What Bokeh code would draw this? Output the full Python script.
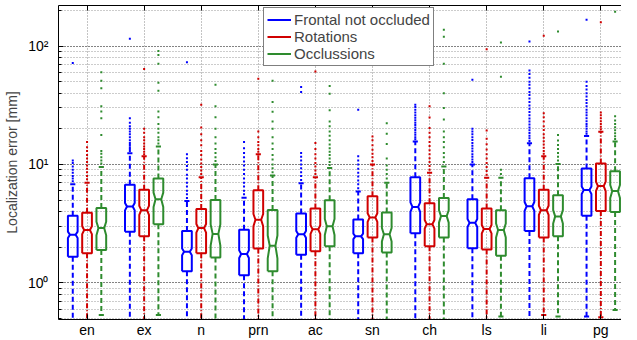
import math
from bokeh.plotting import figure
from bokeh.models import (FixedTicker, LinearAxis, Legend, LegendItem, Range1d)
from bokeh.embed import file_html
from bokeh.resources import INLINE

# ---------------- data ----------------
categories = ["en", "ex", "n", "prn", "ac", "sn", "ch", "ls", "li", "pg"]
series_names = ["Frontal not occluded", "Rotations", "Occlussions"]

# Frontal not occluded (blue)
blue_q1 = [1.66, 2.70, 1.25, 1.16, 1.73, 1.78, 2.62, 1.96, 2.74, 3.68]
blue_med = [2.55, 4.41, 1.83, 1.75, 2.57, 2.47, 4.38, 3.21, 4.43, 6.07]
blue_q3 = [3.68, 6.74, 2.74, 2.81, 3.85, 3.43, 7.80, 5.08, 7.65, 9.22]
blue_whi = [6.8, 12.4, 4.9, 5.24, 6.95, 5.92, 15.6, 10.0, 15.1, 17.4]
blue_wlo = [0.3, 0.3, 0.3, 0.3, 0.3, 0.3, 0.3, 0.3, 0.3, 0.52]
blue_out = [
    [7.2, 7.6, 8.0, 8.5, 9.0, 9.6, 10.3, 10.8, 72],
    [13, 13.5, 14, 14.6, 15.2, 16, 17, 18, 19, 20, 21, 22.5, 24.5, 115],
    [5.2, 5.6, 6, 6.5, 7, 7.6, 8.2, 9, 9.7, 10.5, 11.3, 12.2, 73],
    [5.6, 6, 6.5, 7, 7.6, 8.3, 9, 9.8, 10.6, 11.5, 12.5, 13.7, 15.5],
    [7.4, 8, 8.6, 9.3, 10, 10.8, 11.6, 12.5, 41, 45],
    [6.3, 6.8, 7.3, 7.9, 8.5, 9.2, 10, 10.8, 11.7, 29],
    [16.3, 17, 17.8, 18.6, 19.5, 20.5, 21.5, 22.5, 23.6, 24.8, 26, 27.5, 29, 30.5, 32],
    [10.5, 11, 11.6, 12.2, 12.9, 13.6, 14.4, 15.2, 16.1, 17, 18, 19, 20, 52],
    [15.8, 16.6, 17.5, 18.4, 19.4, 20.5, 21.7, 23, 24.4, 26, 27.7, 29.5, 31.5, 33.7,
     36, 38.5, 41, 44, 47, 50, 54, 58, 62, 109],
    [18.2, 19, 20, 21, 22, 23.2, 24.5, 26, 27.5, 29, 31, 33, 35, 37.5, 40, 43, 46, 50, 167],
]

# Rotations (red)
red_q1 = [1.78, 2.47, 1.78, 1.95, 1.85, 2.41, 2.04, 1.91, 2.41, 4.05]
red_med = [2.79, 4.11, 2.90, 3.41, 2.83, 3.57, 3.13, 2.85, 4.11, 6.56]
red_q3 = [3.90, 6.12, 4.21, 6.04, 4.24, 5.38, 4.70, 4.24, 6.12, 10.2]
red_whi = [7.0, 11.7, 7.8, 12.2, 7.8, 10.0, 8.5, 7.7, 11.7, 18.9]
red_wlo = [0.3, 0.3, 0.3, 0.3, 0.3, 0.3, 0.3, 0.3, 0.536, 0.512]
red_out = [
    [7.5, 8, 8.6, 9.2, 9.8, 10.5, 11.2, 12, 13, 14, 15.5],
    [12.2, 12.8, 13.5, 14.2, 15, 16, 17, 18.5, 20, 64],
    [8.3, 8.9, 9.5, 10.2, 11, 12, 13, 14.5, 16, 18, 20.5, 32],
    [12.8, 13.5, 14.5, 15.5, 17, 19, 53],
    [8.3, 8.9, 9.6, 10.3, 11.2, 12.2, 13.5, 15.2, 61],
    [10.7, 11.5, 12.3, 13.3, 14.5, 16, 17.2],
    [9, 9.7, 10.5, 11.3, 12.2, 13.2, 14.3, 15.5, 17, 18.5, 20.3, 24.9, 31],
    [8.2, 8.8, 9.5, 10.3, 11.2, 12.2, 13.4, 14.8, 16.5, 19.3, 94],
    [12.3, 13, 13.8, 14.7, 15.7, 16.8, 18, 19.5, 21, 23, 25, 27, 122],
    [19.8, 20.8, 22, 23.2, 24.5, 26, 27.5, 159],
]

# Occlussions (green)
green_q1 = [1.89, 3.13, 1.64, 1.25, 2.04, 1.80, 2.41, 1.69, 2.47, 3.97]
green_med = [2.90, 5.08, 2.59, 2.06, 3.00, 2.57, 3.66, 2.79, 3.64, 5.96]
green_q3 = [4.29, 7.60, 5.00, 4.13, 4.98, 3.93, 5.20, 4.10, 5.48, 8.75]
green_whi = [9.5, 14.2, 10.0, 8.06, 9.35, 7.0, 9.6, 7.7, 10.1, 15.6]
green_wlo = [0.536, 0.536, 0.3, 0.3, 0.3, 0.3, 0.3, 0.52, 0.52, 0.59]
green_out = [
    [10.2, 10.8, 11.5, 12.3, 13, 17.7, 24.6, 28, 31, 44, 51, 60],
    [15, 16, 17, 18.5, 20, 22, 25, 28, 42, 49, 71, 84, 91],
    [10.7, 11.5, 12.5, 13.5, 15, 17, 20, 25, 31, 47],
    [8.6, 9.3, 10, 11, 12, 13.5, 15, 17, 20, 23, 27.8, 33.7, 51],
    [9.9, 10.5, 11.2, 12, 12.8, 13.7, 14.7, 16, 17.5, 19, 21, 23, 28.7, 39.6, 46],
    [7.6, 8.3, 9, 9.8, 11.2, 14.9, 18.2, 22.3],
    [10.5, 11.5, 12.5, 14, 15.5, 17, 19, 24, 30, 40, 71, 120, 137],
    [8.3, 9, 55, 107],
    [10.8, 11.6, 12.5, 13.5, 14.6, 15.9, 17.7, 133],
    [16.4, 17.3, 18.3, 19.4, 20.6, 22, 23.5, 25.5, 195],
]

# sample counts used for the notch (median +- 1.57*IQR/sqrt(n))
n_samples = [400, 250, 100]

# ---------------- style ----------------
colors = ["#0000ff", "#d00000", "#2e8b2e"]
whisker_dash = ["5 3", "5 2 1 2", "5 3"]
offsets = [-0.25, 0.0, 0.25]
HW = 0.085    # box half width (x units)
NW = 0.05     # half width at notch
CW = 0.045    # whisker cap half width
FONT = "Liberation Sans"

W, H = 621, 340
LEFT, TOP, BOTTOM = 49, 5, 19
FRAME_W = W - LEFT
FRAME_H = H - TOP - BOTTOM
PX_PER_UNIT = 58.0

p = figure(width=W, height=H, y_axis_type="log",
           x_range=Range1d(0.5, 0.5 + FRAME_W / PX_PER_UNIT),
           y_range=Range1d(0.49, 220),
           output_backend="svg", toolbar_location=None,
           min_border_left=LEFT, min_border_right=0, min_border_top=TOP,
           min_border_bottom=BOTTOM, background_fill_color="white",
           border_fill_color="white", outline_line_color=None)

xticks = list(range(1, len(categories) + 1))

# grid
p.xgrid.ticker = FixedTicker(ticks=xticks)
p.xgrid.grid_line_color = "#888888"
p.xgrid.grid_line_dash = "1 2"
p.ygrid.grid_line_color = "#555555"
p.ygrid.grid_line_dash = "1 2"
p.ygrid.minor_grid_line_color = "#999999"
p.ygrid.minor_grid_line_dash = "1 2"

# axes
xa = p.xaxis[0]
xa.ticker = FixedTicker(ticks=xticks)
xa.major_label_overrides = {i + 1: c for i, c in enumerate(categories)}
xa.major_tick_in = 5
xa.major_tick_out = 0
xa.minor_tick_line_color = None
xa.major_label_text_font = FONT
xa.major_label_text_font_size = "14px"
xa.major_label_text_color = "black"
xa.major_label_standoff = 2
xa.axis_line_color = "black"

ya = p.yaxis[0]
ya.major_label_overrides = {1: "10\u2070", 10: "10\u00b9", 100: "10\u00b2"}
ya.major_tick_in = 5
ya.major_tick_out = 0
ya.minor_tick_in = 3
ya.minor_tick_out = 0
ya.major_label_text_font = FONT
ya.major_label_text_font_size = "14px"
ya.major_label_text_color = "black"
ya.major_label_standoff = 10
ya.axis_label = "Localization error [mm]"
ya.axis_label_text_font = FONT
ya.axis_label_text_font_size = "14px"
ya.axis_label_text_font_style = "normal"
ya.axis_label_standoff = 5
ya.axis_line_color = "black"

top = LinearAxis(ticker=FixedTicker(ticks=xticks), major_label_text_font_size="0px",
                 major_tick_in=5, major_tick_out=0, minor_tick_line_color=None,
                 major_label_standoff=0, axis_line_color="black")
top.major_label_overrides = {t: "" for t in xticks}
p.add_layout(top, "above")

# ---------------- boxes ----------------
all_q1 = [blue_q1, red_q1, green_q1]
all_med = [blue_med, red_med, green_med]
all_q3 = [blue_q3, red_q3, green_q3]
all_whi = [blue_whi, red_whi, green_whi]
all_wlo = [blue_wlo, red_wlo, green_wlo]
all_out = [blue_out, red_out, green_out]

legend_items = []
for s in range(3):
    box_xs, box_ys = [], []
    med_xs, med_ys = [], []
    wh_xs, wh_ys = [], []
    cap_xs, cap_ys = [], []
    ox, oy = [], []
    for i in range(len(categories)):
        xc = i + 1 + offsets[s]
        q1, md, q3 = all_q1[s][i], all_med[s][i], all_q3[s][i]
        d = 1.57 * (q3 - q1) / math.sqrt(n_samples[s])
        nlo, nhi = max(q1, md - d), min(q3, md + d)
        box_xs.append([xc - HW, xc + HW, xc + HW, xc + NW, xc + HW, xc + HW,
                       xc - HW, xc - HW, xc - NW, xc - HW, xc - HW])
        box_ys.append([q1, q1, nlo, md, nhi, q3, q3, nhi, md, nlo, q1])
        med_xs.append([xc - NW, xc + NW])
        med_ys.append([md, md])
        wh_xs += [[xc, xc], [xc, xc]]
        wh_ys += [[q3, all_whi[s][i]], [q1, all_wlo[s][i]]]
        cap_xs += [[xc - CW, xc + CW], [xc - CW, xc + CW]]
        cap_ys += [[all_whi[s][i]] * 2, [all_wlo[s][i]] * 2]
        for v in all_out[s][i]:
            ox.append(xc)
            oy.append(v)
    c = colors[s]
    p.multi_line(wh_xs, wh_ys, line_color=c, line_width=2, line_dash=whisker_dash[s])
    p.multi_line(cap_xs, cap_ys, line_color=c, line_width=2)
    rb = p.multi_line(box_xs, box_ys, line_color=c, line_width=2)
    p.multi_line(med_xs, med_ys, line_color=c, line_width=2)
    p.scatter(x=ox, y=oy, marker="square", size=2, fill_color=c, line_color=None)
    legend_items.append(LegendItem(label=series_names[s], renderers=[rb]))

# legend: top-left corner ~6px below the frame top, 205px right of frame left
LEG_H = 57
legend = Legend(items=legend_items, location=(205, FRAME_H - 6 - LEG_H),
                label_text_font=FONT, label_text_font_size="15px",
                label_height=17, glyph_height=17, glyph_width=24,
                label_standoff=3, spacing=0, padding=3, margin=0,
                border_line_color="black", border_line_width=1.5,
                background_fill_color="white", background_fill_alpha=1)
p.add_layout(legend)

open("out.html", "w").write(file_html(p, INLINE))
